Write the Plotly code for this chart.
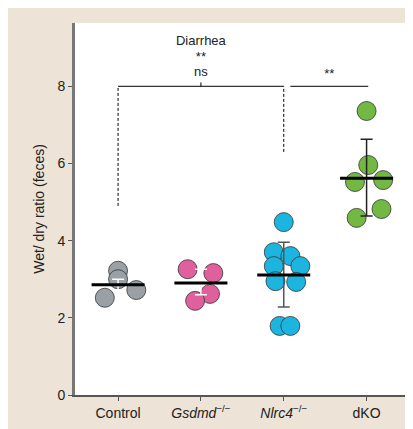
import plotly.graph_objects as go

categories = ["Control", "<i>Gsdmd</i><sup>−/−</sup>", "<i>Nlrc4</i><sup>−/−</sup>", "dKO"]
colors = ["#9aa1a6", "#e0609e", "#1cb5e0", "#72b843"]
values = [
    [3.22, 3.0, 2.52, 2.72],
    [3.26, 3.16, 2.62, 2.44],
    [4.48, 3.70, 3.60, 3.34, 3.34, 2.95, 2.93, 1.79, 1.79],
    [7.36, 5.96, 5.52, 5.57, 4.82, 4.59],
]
jitter = [
    [0.0, 0.0, -0.16, 0.22],
    [-0.16, 0.15, 0.11, -0.07],
    [0.0, -0.12, 0.08, -0.12, 0.2, -0.1, 0.15, -0.05, 0.08],
    [0.0, 0.02, -0.14, 0.2, 0.18, -0.12],
]
means = [2.86, 2.90, 3.11, 5.62]
err_lo = [2.72, 2.60, 2.28, 4.64]
err_hi = [3.0, 3.26, 3.96, 6.63]
err_colors = ["white", "white", "#555555", "#222222"]

fig = go.Figure()
for i in range(4):
    fig.add_trace(go.Scatter(
        x=[i + j for j in jitter[i]], y=values[i], mode="markers",
        marker=dict(size=19, color=colors[i], line=dict(color="#333333", width=0.8)),
        showlegend=False))
    fig.add_trace(go.Scatter(
        x=[i], y=[means[i]], mode="markers", marker=dict(size=0.1, color="rgba(0,0,0,0)"),
        error_y=dict(type="data", symmetric=False, array=[err_hi[i] - means[i]],
                     arrayminus=[means[i] - err_lo[i]], color=err_colors[i], thickness=1.5, width=6),
        showlegend=False))
    fig.add_trace(go.Scatter(
        x=[i - 0.32, i + 0.32], y=[means[i], means[i]], mode="lines",
        line=dict(color="black", width=3), showlegend=False))

# significance brackets
fig.add_trace(go.Scatter(x=[0, 2], y=[8.0, 8.0], mode="lines",
                         line=dict(color="black", width=1), showlegend=False))
fig.add_trace(go.Scatter(x=[0, 0, None, 2, 2], y=[4.9, 8.0, None, 6.3, 8.0], mode="lines",
                         line=dict(color="black", width=1, dash="3px,2px"), showlegend=False))
fig.add_trace(go.Scatter(x=[1, 1], y=[8.0, 8.1], mode="lines",
                         line=dict(color="black", width=1), showlegend=False))
fig.add_trace(go.Scatter(x=[2.08, 3.02], y=[8.0, 8.0], mode="lines",
                         line=dict(color="black", width=1), showlegend=False))
fig.add_trace(go.Scatter(
    x=[1, 1, 1, 2.55], y=[9.15, 8.75, 8.35, 8.3], mode="text",
    text=["Diarrhea", "**", "ns", "**"], textfont=dict(size=13, color="#222"),
    showlegend=False))

fig.update_layout(
    width=413, height=429, margin=dict(l=67, r=13, t=15, b=42),
    paper_bgcolor="#ede3d6", plot_bgcolor="white",
    font=dict(family="Liberation Sans, Arial", size=14, color="#222"),
    xaxis=dict(range=[-0.52, 3.5], tickvals=[0, 1, 2, 3], ticktext=categories, automargin=False,
               showgrid=False, zeroline=False, showline=True, linecolor="#555", linewidth=1.5,
               ticks="outside", ticklen=4, tickcolor="#555"),
    yaxis=dict(range=[0, 9.64], tickvals=[0, 2, 4, 6, 8], showgrid=False, zeroline=False,
               automargin=False,
               showline=True, linecolor="#777", linewidth=3, ticks="outside", ticklen=4,
               tickcolor="#555", title=dict(text="Wet/ dry ratio (feces)", font=dict(size=14), standoff=10)),
)
fig.write_html("out.html")
